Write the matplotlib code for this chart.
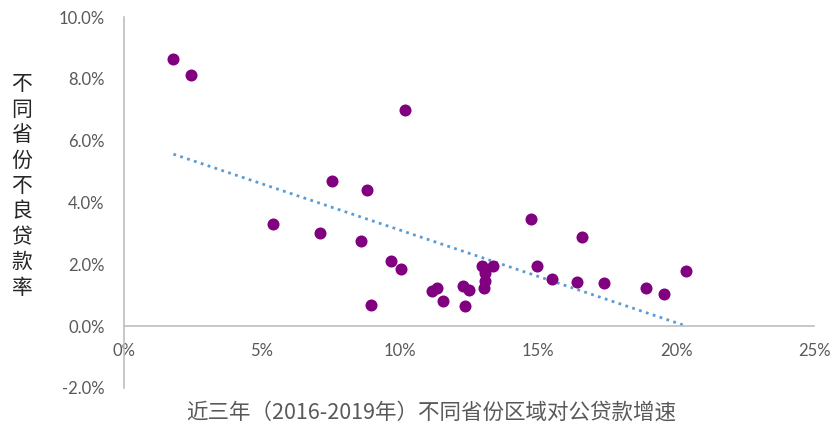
import numpy as np
import matplotlib.pyplot as plt
from matplotlib.ticker import PercentFormatter

plt.rcParams['font.family'] = ['Noto Sans CJK SC', 'DejaVu Sans']
plt.rcParams['axes.unicode_minus'] = False

# loan growth (2016-2019) by province, and NPL ratio
growth = [1.79, 2.43, 10.18, 7.52, 8.79, 5.41, 7.11, 8.59, 9.67, 10.04,
          8.94, 11.16, 11.35, 11.55, 12.29, 12.50, 12.37, 12.97, 13.07, 13.07,
          13.03, 13.36, 14.73, 14.98, 15.51, 16.40, 16.58, 17.40, 18.90, 19.57,
          20.36]
npl = [8.63, 8.13, 6.99, 4.71, 4.39, 3.31, 3.00, 2.76, 2.10, 1.84,
       0.67, 1.14, 1.23, 0.82, 1.29, 1.18, 0.65, 1.96, 1.72, 1.45,
       1.22, 1.96, 3.46, 1.96, 1.53, 1.42, 2.90, 1.40, 1.23, 1.03,
       1.80]

x = np.array(growth) / 100
y = np.array(npl) / 100

fig = plt.figure(figsize=(8.32, 4.25), dpi=100)
ax = fig.add_axes([124/832, 1-388/425, 690/832, 371/425])

ax.scatter(x, y, s=75, color='#800080', zorder=3, linewidths=0)

# linear trend line
k, b = np.polyfit(x, y, 1)
xt = np.array([x.min(), x.max()])
ax.plot(xt, k*xt + b, linestyle=(0, (1, 1.6)), color='#5B9BD5', lw=2, zorder=2)

ax.set_xlim(0, 0.25)
ax.set_ylim(-0.02, 0.10)
ax.set_xticks(np.arange(0, 0.26, 0.05))
ax.set_yticks(np.arange(-0.02, 0.101, 0.02))
ax.xaxis.set_major_formatter(PercentFormatter(1.0, decimals=0))
ax.yaxis.set_major_formatter(PercentFormatter(1.0, decimals=1))

for s in ['top', 'right']:
    ax.spines[s].set_visible(False)
ax.spines['bottom'].set_position(('data', 0))
ax.spines['bottom'].set_color('#BFBFBF')
ax.spines['left'].set_color('#BFBFBF')
ax.spines['bottom'].set_linewidth(1.2)
ax.spines['left'].set_linewidth(1.2)
ax.tick_params(axis='x', length=0, pad=12, labelsize=12, labelcolor='#595959')
ax.tick_params(axis='y', length=0, pad=14, labelsize=12, labelcolor='#595959')
for lbl in ax.get_xticklabels() + ax.get_yticklabels():
    lbl.set_family(['Lato', 'DejaVu Sans'])

fig.text(22/832, 1-186/425, '\n'.join('不同省份不良贷款率'), ha='center', va='center',
         fontsize=15, linespacing=1.2, color='#262626')
fig.text(431/832, 1-413/425, '近三年（2016-2019年）不同省份区域对公贷款增速',
         ha='center', va='center', fontsize=15.5, color='#595959')

fig.savefig('out.png', dpi=100)
